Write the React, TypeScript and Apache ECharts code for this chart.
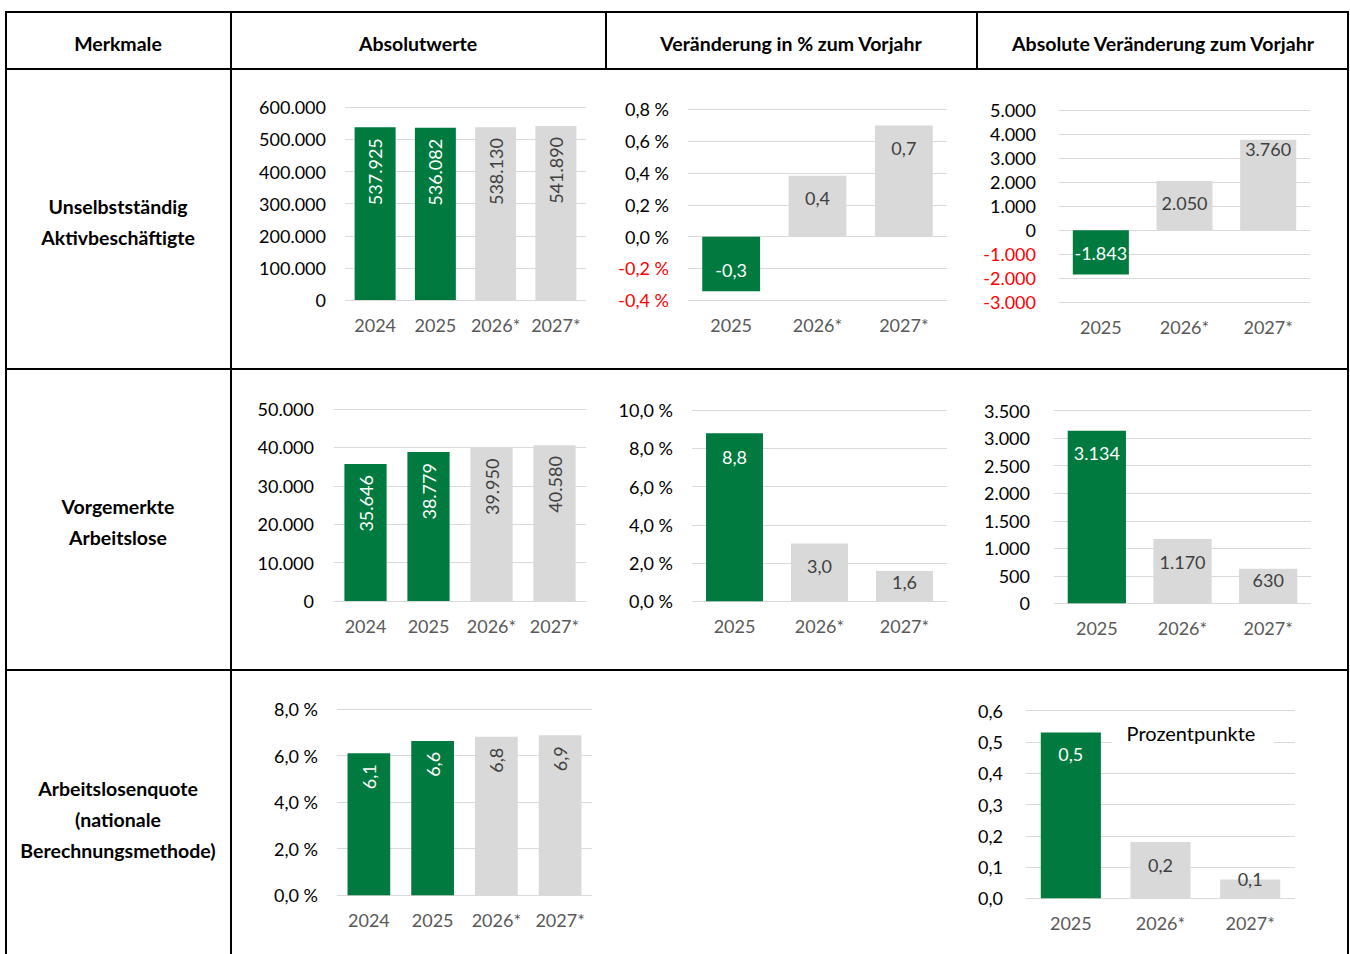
import React, { useEffect, useRef } from "react";
import * as echarts from "echarts";

// ---- Data ----
const years4 = ["2024", "2025", "2026*", "2027*"];
const years3 = ["2025", "2026*", "2027*"];
const actual4 = [true, true, false, false];
const actual3 = [true, false, false];

const employedAbs = [537925, 536082, 538130, 541890];
const employedPct = [-0.343, 0.382, 0.699];
const employedDiff = [-1843, 2050, 3760];

const unemployedAbs = [35646, 38779, 39950, 40580];
const unemployedPct = [8.79, 3.02, 1.58];
const unemployedDiff = [3134, 1170, 630];

const rateAbs = [6.1, 6.63, 6.81, 6.87];
const rateDiff = [0.53, 0.18, 0.06];

const headers = [
  "Merkmale",
  "Absolutwerte",
  "Veränderung in % zum Vorjahr",
  "Absolute Veränderung zum Vorjahr",
];
const rowLabels = [
  "Unselbstständig\nAktivbeschäftigte",
  "Vorgemerkte\nArbeitslose",
  "Arbeitslosenquote\n(nationale\nBerechnungsmethode)",
];
const unitNote = "Prozentpunkte";

// ---- Styles ----
const FONT = "Lato, 'Open Sans', sans-serif";
const GREEN = "#007A3E";
const GREY = "#D9D9D9";
const LABEL_DARK = "#404040";
const AXIS_FS = 18;

function thousands(v: number): string {
  const n = Math.round(v);
  const s = String(Math.abs(n)).replace(/\B(?=(\d{3})+(?!\d))/g, ".");
  return (n < 0 ? "-" : "") + s;
}
function dec(v: number, d: number): string {
  const s = v.toFixed(d);
  return (s === "-0.0" ? "0.0" : s).replace(".", ",");
}

type Panel = {
  grid: { left: number; top: number; width: number; height: number };
  cats: string[];
  actual: boolean[];
  values: number[];
  min: number;
  max: number;
  interval: number;
  axisFmt: (v: number) => string;
  labelFmt: (v: number) => string;
  rotate?: boolean;
  gaps?: number[];
  barWidth: string;
  yMargin: number;
};

const panels: Panel[] = [
  {
    grid: { left: 345, top: 107.3, width: 241, height: 192.7 },
    cats: years4, actual: actual4, values: employedAbs,
    min: 0, max: 600000, interval: 100000,
    axisFmt: (v) => thousands(v), labelFmt: (v) => thousands(v),
    rotate: true, barWidth: "68%", yMargin: 19,
  },
  {
    grid: { left: 688, top: 109.3, width: 259, height: 191 },
    cats: years3, actual: actual3, values: employedPct,
    min: -0.4, max: 0.8, interval: 0.2,
    axisFmt: (v) => dec(v, 1) + " %", labelFmt: (v) => dec(v, 1),
    gaps: [12, 13, 14], barWidth: "67%", yMargin: 19,
  },
  {
    grid: { left: 1059, top: 110, width: 251, height: 192.3 },
    cats: years3, actual: actual3, values: employedDiff,
    min: -3000, max: 5000, interval: 1000,
    axisFmt: (v) => thousands(v), labelFmt: (v) => thousands(v),
    gaps: [12, 13, 0.5], barWidth: "67%", yMargin: 23,
  },
  {
    grid: { left: 334, top: 409, width: 252, height: 192 },
    cats: years4, actual: actual4, values: unemployedAbs,
    min: 0, max: 50000, interval: 10000,
    axisFmt: (v) => thousands(v), labelFmt: (v) => thousands(v),
    rotate: true, barWidth: "67%", yMargin: 20,
  },
  {
    grid: { left: 692, top: 410, width: 255, height: 191.3 },
    cats: years3, actual: actual3, values: unemployedPct,
    min: 0, max: 10, interval: 2,
    axisFmt: (v) => dec(v, 1) + " %", labelFmt: (v) => dec(v, 1),
    gaps: [14.5, 13.5, 2], barWidth: "67%", yMargin: 19,
  },
  {
    grid: { left: 1054, top: 410.7, width: 257, height: 192.6 },
    cats: years3, actual: actual3, values: unemployedDiff,
    min: 0, max: 3500, interval: 500,
    axisFmt: (v) => thousands(v), labelFmt: (v) => thousands(v),
    gaps: [13, 14.5, 2], barWidth: "68%", yMargin: 24,
  },
  {
    grid: { left: 337, top: 709, width: 255, height: 186.3 },
    cats: years4, actual: actual4, values: rateAbs,
    min: 0, max: 8, interval: 2,
    axisFmt: (v) => dec(v, 1) + " %", labelFmt: (v) => dec(v, 1),
    rotate: true, barWidth: "67%", yMargin: 19,
  },
  {
    grid: { left: 1026, top: 710.7, width: 269, height: 187.6 },
    cats: years3, actual: actual3, values: rateDiff,
    min: 0, max: 0.6, interval: 0.1,
    axisFmt: (v) => dec(v, 1), labelFmt: (v) => dec(v, 1),
    gaps: [12, 14, -9.5], barWidth: "67%", yMargin: 23,
  },
];

function buildOption() {
  const grids: any[] = [];
  const xAxes: any[] = [];
  const yAxes: any[] = [];
  const series: any[] = [];

  panels.forEach((p, i) => {
    grids.push({ ...p.grid, containLabel: false });
    xAxes.push({
      gridIndex: i,
      type: "category",
      data: p.cats,
      axisLine: { show: false },
      axisTick: { show: false },
      axisLabel: {
        color: "#595959",
        fontSize: AXIS_FS,
        fontFamily: FONT,
        margin: 16,
        interval: 0,
        hideOverlap: false,
      },
    });
    yAxes.push({
      gridIndex: i,
      type: "value",
      min: p.min,
      max: p.max,
      interval: p.interval,
      axisLine: { show: false },
      axisTick: { show: false },
      splitLine: { lineStyle: { color: GREY, width: 1 } },
      axisLabel: {
        fontSize: AXIS_FS,
        fontFamily: FONT,
        margin: p.yMargin,
        formatter: (v: number) => p.axisFmt(v),
        color: (v: any) => (Number(v) < -1e-9 ? "#FF0000" : "#000000"),
      },
    });
    series.push({
      type: "bar",
      xAxisIndex: i,
      yAxisIndex: i,
      barWidth: p.barWidth,
      data: p.values.map((v, k) => {
        const act = p.actual[k];
        const label: any = {
          show: true,
          fontSize: AXIS_FS,
          fontFamily: FONT,
          color: act ? "#FFFFFF" : LABEL_DARK,
          formatter: () => p.labelFmt(v),
        };
        if (p.rotate) {
          Object.assign(label, {
            position: "insideTop",
            rotate: 90,
            align: "right",
            verticalAlign: "middle",
            distance: 11,
          });
        } else {
          Object.assign(label, {
            position: v < 0 ? "insideBottom" : "insideTop",
            distance: p.gaps ? p.gaps[k] : 12,
          });
        }
        return {
          value: v,
          itemStyle: { color: act ? GREEN : GREY },
          label,
        };
      }),
    });
  });

  const L = "#000000";
  const line = (x1: number, y1: number, x2: number, y2: number) => ({
    type: "line",
    shape: { x1, y1, x2, y2 },
    style: { stroke: L, lineWidth: 2 },
    z: 20,
  });

  const headerX = [118, 418, 791, 1163];
  const rowY = [222, 522, 819];

  const graphic: any[] = [
    line(5, 12, 1349, 12),
    line(5, 69, 1349, 69),
    line(5, 369, 1349, 369),
    line(5, 670, 1349, 670),
    line(6, 11, 6, 954),
    line(231, 11, 231, 954),
    line(606, 11, 606, 69),
    line(977, 11, 977, 69),
    line(1348, 11, 1348, 954),
    ...headers.map((h, i) => ({
      type: "text",
      x: headerX[i],
      y: 43,
      z: 20,
      style: {
        text: h,
        fill: "#000",
        fontSize: 19.5,
        fontWeight: "bold",
        fontFamily: FONT,
        textAlign: "center",
        textVerticalAlign: "middle",
      },
    })),
    ...rowLabels.map((t, i) => ({
      type: "text",
      x: 118,
      y: rowY[i],
      z: 20,
      style: {
        text: t,
        fill: "#000",
        fontSize: 19.5,
        fontWeight: "bold",
        fontFamily: FONT,
        lineHeight: 31,
        textAlign: "center",
        textVerticalAlign: "middle",
      },
    })),
    {
      type: "rect",
      shape: { x: 1112, y: 719, width: 162, height: 29 },
      style: { fill: "#FFFFFF" },
      z: 10,
    },
    {
      type: "text",
      x: 1191,
      y: 733,
      z: 11,
      style: {
        text: unitNote,
        fill: "#000",
        fontSize: 20,
        fontFamily: FONT,
        textAlign: "center",
        textVerticalAlign: "middle",
      },
    },
  ];

  return {
    animation: false,
    backgroundColor: "#FFFFFF",
    textStyle: { fontFamily: FONT },
    grid: grids,
    xAxis: xAxes,
    yAxis: yAxes,
    series,
    graphic,
  };
}

export default function App() {
  const ref = useRef<HTMLDivElement>(null);
  useEffect(() => {
    if (!ref.current) return;
    const chart = echarts.init(ref.current, undefined, { renderer: "svg" });
    chart.setOption(buildOption() as any);
    return () => chart.dispose();
  }, []);
  return (
    <div
      ref={ref}
      style={{ position: "absolute", left: 0, top: 0, width: 1350, height: 954 }}
    />
  );
}
